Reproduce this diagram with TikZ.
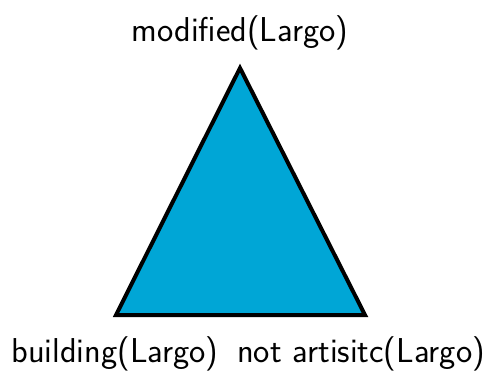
\documentclass[tikz,border=0pt]{standalone}
\usepackage{tikz}
\usetikzlibrary{positioning}
\definecolor{triblue}{RGB}{0,166,214}

\begin{document}
\begin{tikzpicture}[x=1pt, y=-1pt, node distance=6pt,
    lbl/.style={font=\sffamily\fontsize{34.5}{41}\selectfont, inner sep=0pt}]
        \useasboundingbox (0,0) rectangle (487,372);
        \coordinate (top) at (240,68);
        \coordinate (left) at (116,315);
        \coordinate (right) at (365,315);
        \filldraw[fill=triblue, line width=4pt, line join=miter] (top) -- (left) -- (right) -- cycle;

        \node[lbl, anchor=base] (tlabel) at (240,41) {modified(Largo)};
        \node[lbl, anchor=base] (llabel) at (115,362) {building(Largo)};
        \node[lbl, anchor=base] (rlabel) at (361,362) {not artisitc(Largo)};
    \end{tikzpicture}
\end{document}
